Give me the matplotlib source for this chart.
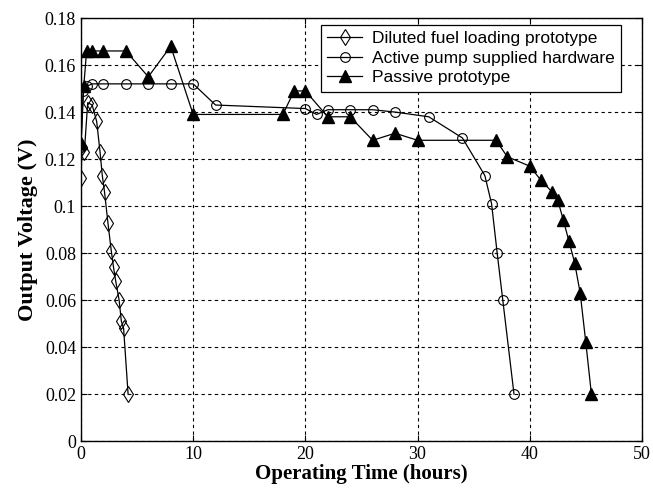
import numpy as np
import matplotlib.pyplot as plt

# ============================================================
# Data
# ============================================================

diluted_t = [0, 0.1, 0.3, 0.6, 1.0, 1.4, 1.7, 1.9, 2.1, 2.4, 2.7, 2.9, 3.1, 3.4, 3.6, 3.8, 4.2]
diluted_v = [0.112, 0.125, 0.123, 0.144, 0.143, 0.136, 0.123, 0.113, 0.106, 0.093,
             0.081, 0.074, 0.068, 0.060, 0.051, 0.048, 0.020]

active_t = [0, 0.2, 0.5, 1, 2, 4, 6, 8, 10, 12, 20, 21, 22, 24, 26, 28, 31, 34,
            36, 36.6, 37.1, 37.6, 38.6]
active_v = [0.125, 0.149, 0.151, 0.152, 0.152, 0.152, 0.152, 0.152, 0.152, 0.143,
            0.1415, 0.139, 0.141, 0.141, 0.141, 0.140, 0.138, 0.129,
            0.113, 0.101, 0.080, 0.060, 0.020]

passive_t = [0, 0.25, 0.5, 1, 2, 4, 6, 8, 10, 18, 19, 20, 22, 24, 26, 28, 30, 37,
             38, 40, 41, 42, 42.5, 43, 43.5, 44, 44.5, 45, 45.5]
passive_v = [0.127, 0.151, 0.166, 0.166, 0.166, 0.166, 0.155, 0.168, 0.139, 0.139,
             0.149, 0.149, 0.138, 0.138, 0.128, 0.131, 0.128, 0.128,
             0.121, 0.117, 0.111, 0.106, 0.1025, 0.094, 0.085, 0.076, 0.063, 0.042, 0.020]

yticks = [0, 0.02, 0.04, 0.06, 0.08, 0.1, 0.12, 0.14, 0.16, 0.18]
ytick_labels = ["0", "0.02", "0.04", "0.06", "0.08", "0.1", "0.12", "0.14", "0.16", "0.18"]
xticks = [0, 10, 20, 30, 40, 50]

# ============================================================
# Plot
# ============================================================

serif = "Liberation Serif"
sans = "Liberation Sans"

fig = plt.figure(figsize=(6.53, 4.88), dpi=100)
ax = fig.add_axes([0.124, 0.096, 0.859, 0.867])

ax.plot(diluted_t, diluted_v, color="black", lw=0.9, marker="d", ms=8.5,
        mfc="none", mec="black", mew=0.8, label="Diluted fuel loading prototype")
ax.plot(active_t, active_v, color="black", lw=0.9, marker="o", ms=7,
        mfc="none", mec="black", mew=0.8, label="Active pump supplied hardware")
ax.plot(passive_t, passive_v, color="black", lw=0.9, marker="^", ms=9,
        mfc="black", mec="black", label="Passive prototype")

ax.set_xlim(0, 50)
ax.set_ylim(0, 0.18)
ax.set_xticks(xticks)
ax.set_yticks(yticks)
ax.set_yticklabels(ytick_labels)
ax.grid(True, color="black", linestyle=(0, (3, 3)), linewidth=0.8)
ax.tick_params(direction="in", top=True, right=True, length=4, color="black")
for lab in ax.get_xticklabels() + ax.get_yticklabels():
    lab.set_fontfamily(serif)
    lab.set_fontsize(13)
for s in ax.spines.values():
    s.set_linewidth(1.0)

ax.set_xlabel("Operating Time (hours)", fontfamily=serif, fontweight="bold",
              fontsize=15, labelpad=1)
ax.set_ylabel("Output Voltage (V)", fontfamily=serif, fontweight="bold",
              fontsize=16, labelpad=5)

leg = ax.legend(loc="upper right", bbox_to_anchor=(0.963, 0.983),
                prop={"family": sans, "size": 12.5}, fancybox=False,
                edgecolor="black", framealpha=1, borderpad=0.35,
                labelspacing=0.25, handlelength=2.0, handletextpad=0.6,
                borderaxespad=0)
leg.get_frame().set_linewidth(0.9)

fig.savefig("out.png", dpi=100)
